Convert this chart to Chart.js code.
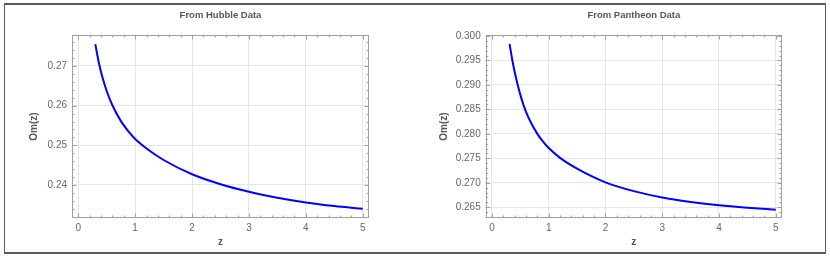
<!DOCTYPE html>
<html><head><meta charset="utf-8">
<script src="https://cdn.jsdelivr.net/npm/chart.js@4/dist/chart.umd.min.js"></script>
<style>
html,body{margin:0;padding:0;background:#fff;}
#wrap{position:relative;width:830px;height:258px;overflow:hidden;background:#fff;}
#frame{position:absolute;left:4px;top:3px;width:822px;height:251px;box-sizing:border-box;border-style:solid;border-color:#5a5a5a;border-width:2px 1px 2px 1px;}
.c{position:absolute;top:0;width:415px;height:258px;}
</style></head>
<body><div id="wrap">
<div id="frame"></div>
<canvas id="c1" class="c" width="415" height="258" style="left:0"></canvas>
<canvas id="c2" class="c" width="415" height="258" style="left:415px"></canvas>
</div>
<script>
// ---- data ----
const xTicks = [0, 1, 2, 3, 4, 5];

const zHubble  = [0.30, 0.34, 0.37, 0.42, 0.50, 0.60, 0.75, 0.90, 1.00, 1.20, 1.50, 2.00, 2.50, 3.00, 3.50, 4.00, 4.50, 5.00];
const omHubble = [0.2755, 0.2724, 0.2703, 0.2674, 0.2637, 0.2601, 0.2561, 0.2532, 0.2516, 0.2492, 0.2463, 0.2427, 0.2402, 0.2383, 0.2368, 0.2356, 0.2347, 0.2340];
const yTicksHubble = [0.24, 0.25, 0.26, 0.27];

const zPantheon  = [0.31, 0.36, 0.40, 0.45, 0.52, 0.60, 0.70, 0.80, 0.90, 1.00, 1.20, 1.50, 2.00, 2.50, 3.00, 3.50, 4.00, 4.50, 5.00];
const omPantheon = [0.2984, 0.2950, 0.2927, 0.2902, 0.2872, 0.2845, 0.2820, 0.2800, 0.2784, 0.2771, 0.2751, 0.2729, 0.2701, 0.2683, 0.2670, 0.2661, 0.2654, 0.2649, 0.2645];
const yTicksPantheon = [0.265, 0.270, 0.275, 0.280, 0.285, 0.290, 0.295, 0.300];

const FONT = "'Liberation Sans', Arial, sans-serif";

const frameTicks = {
  id: 'frameTicks',
  beforeDatasetsDraw(chart, args, opts) {
    const {ctx, chartArea: a, scales: {x, y}} = chart;
    ctx.save();
    ctx.strokeStyle = '#a0a0a0';
    ctx.lineWidth = 1;
    const minors = (scale, step) => {
      const out = [];
      const k0 = Math.ceil(scale.min / step - 1e-9), k1 = Math.floor(scale.max / step + 1e-9);
      for (let k = k0; k <= k1; k++) out.push(k * step);
      return out;
    };
    const drawX = (vals, len) => {
      vals.forEach(v => {
        const px = Math.round(x.getPixelForValue(v)) + 0.5;
        ctx.beginPath();
        ctx.moveTo(px, a.bottom); ctx.lineTo(px, a.bottom - len);
        ctx.moveTo(px, a.top); ctx.lineTo(px, a.top + len);
        ctx.stroke();
      });
    };
    const drawY = (vals, len) => {
      vals.forEach(v => {
        const py = Math.round(y.getPixelForValue(v)) + 0.5;
        ctx.beginPath();
        ctx.moveTo(a.left, py); ctx.lineTo(a.left + len, py);
        ctx.moveTo(a.right, py); ctx.lineTo(a.right - len, py);
        ctx.stroke();
      });
    };
    drawX(minors(x, opts.xMinor), 2.5);
    drawY(minors(y, opts.yMinor), 2.5);
    drawX(opts.xMajor, 4.5);
    drawY(opts.yMajor, 4.5);
    ctx.strokeRect(Math.round(a.left) + 0.5, Math.round(a.top) + 0.5,
                   Math.round(a.right - a.left) - 1, Math.round(a.bottom - a.top) - 1);
    ctx.restore();
  }
};

function makeChart(id, title, zs, oms, yTicks, cfg) {
  const pts = zs.map((z, i) => ({x: z, y: oms[i]}));
  return new Chart(document.getElementById(id), {
    type: 'scatter',
    data: { datasets: [{
      data: pts, showLine: true, borderColor: '#0000ff', borderWidth: 2,
      pointRadius: 0, fill: false, cubicInterpolationMode: 'monotone'
    }]},
    plugins: [frameTicks],
    options: {
      responsive: false, animation: false,
      layout: { padding: { left: cfg.padL, right: cfg.padR, top: 9.6, bottom: 9.5 } },
      plugins: {
        legend: { display: false }, tooltip: { enabled: false },
        title: { display: true, text: title, fullSize: false, color: '#555',
                 font: { family: FONT, size: 9.5, weight: 'bold' }, padding: { top: 0, bottom: 14 } },
        frameTicks: { xMinor: 0.2, yMinor: cfg.yMinor, xMajor: xTicks, yMajor: yTicks }
      },
      scales: {
        x: {
          type: 'linear', min: -0.11, max: 5.11,
          afterBuildTicks: s => { s.ticks = xTicks.map(v => ({value: v})); },
          afterFit: s => { s.height = 30.5; },
          grid: { color: '#e6e6e6', drawTicks: false },
          border: { display: false },
          ticks: { color: '#666', font: { family: FONT, size: 10 }, padding: 4, maxRotation: 0,
                   callback: v => String(v) },
          title: { display: true, text: 'z', color: '#555', padding: { top: 0, bottom: 0 },
                   font: { family: FONT, size: 10, weight: 'bold' } }
        },
        y: {
          type: 'linear', min: cfg.yMin, max: cfg.yMax,
          afterBuildTicks: s => { s.ticks = yTicks.map(v => ({value: v})); },
          afterFit: s => { s.width = cfg.yW; },
          grid: { color: '#e6e6e6', drawTicks: false },
          border: { display: false },
          ticks: { color: '#666', font: { family: FONT, size: 10 }, padding: 5,
                   callback: v => Number(v).toFixed(cfg.dec) },
          title: { display: true, text: 'Om(z)', color: '#555', padding: { top: 0, bottom: 0 },
                   font: { family: FONT, size: 10, weight: 'bold' } }
        }
      }
    }
  });
}

makeChart('c1', 'From Hubble Data', zHubble, omHubble, yTicksHubble,
  { padL: 28, yW: 44, padR: 46, yMin: 0.23168, yMax: 0.27781, yMinor: 0.002, dec: 2 });
makeChart('c2', 'From Pantheon Data', zPantheon, omPantheon, yTicksPantheon,
  { padL: 23, yW: 47.7, padR: 48, yMin: 0.26281, yMax: 0.3002, yMinor: 0.001, dec: 3 });
</script>
</body></html>
